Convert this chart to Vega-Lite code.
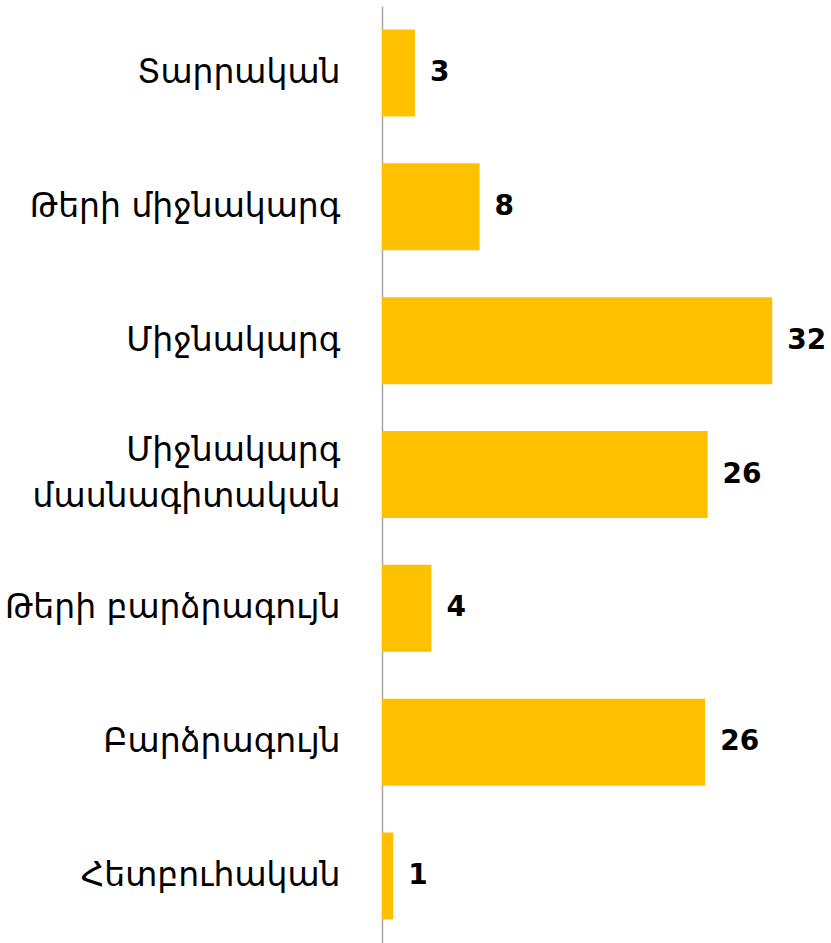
{
  "$schema": "https://vega.github.io/schema/vega-lite/v6.json",
  "width": 439,
  "height": 937,
  "autosize": {"type": "none"},
  "padding": {"left": 382, "top": 6, "right": 10, "bottom": 0},
  "background": "white",
  "config": {"view": {"stroke": null}},
  "data": {
    "values": [
      {"category": "Տարրական", "value": 2.7, "label": "3"},
      {"category": "Թերի միջնակարգ", "value": 8.0, "label": "8"},
      {"category": "Միջնակարգ", "value": 32.0, "label": "32"},
      {"category": "Միջնակարգ\nմասնագիտական", "value": 26.7, "label": "26"},
      {"category": "Թերի բարձրագույն", "value": 4.05, "label": "4"},
      {"category": "Բարձրագույն", "value": 26.5, "label": "26"},
      {"category": "Հետբուհական", "value": 0.92, "label": "1"}
    ]
  },
  "encoding": {
    "y": {
      "field": "category",
      "type": "nominal",
      "sort": null,
      "scale": {"paddingInner": 0.35, "paddingOuter": 0.175},
      "axis": {
        "title": null,
        "ticks": false,
        "domain": true,
        "domainColor": "#A6A6A6",
        "domainWidth": 1.5,
        "labelFont": "DejaVu Sans",
        "labelFontSize": 33,
        "labelColor": "#000000",
        "labelPadding": 42,
        "labelLimit": 600,
        "labelLineHeight": 46,
        "labelAlign": "right",
        "labelExpr": "split(datum.label, '\\n')",
        "labelOffset": {
          "condition": {"test": "indexof(datum.value, '\\n') >= 0", "value": -24},
          "value": 0
        }
      }
    },
    "x": {
      "field": "value",
      "type": "quantitative",
      "scale": {"domain": [0, 36]},
      "axis": null
    }
  },
  "layer": [
    {"mark": {"type": "bar", "color": "#FFC000"}},
    {
      "mark": {
        "type": "text",
        "align": "left",
        "baseline": "middle",
        "dx": 15,
        "font": "DejaVu Sans",
        "fontWeight": "bold",
        "fontSize": 28,
        "color": "#000000",
        "clip": false
      },
      "encoding": {"text": {"field": "label"}}
    }
  ]
}
